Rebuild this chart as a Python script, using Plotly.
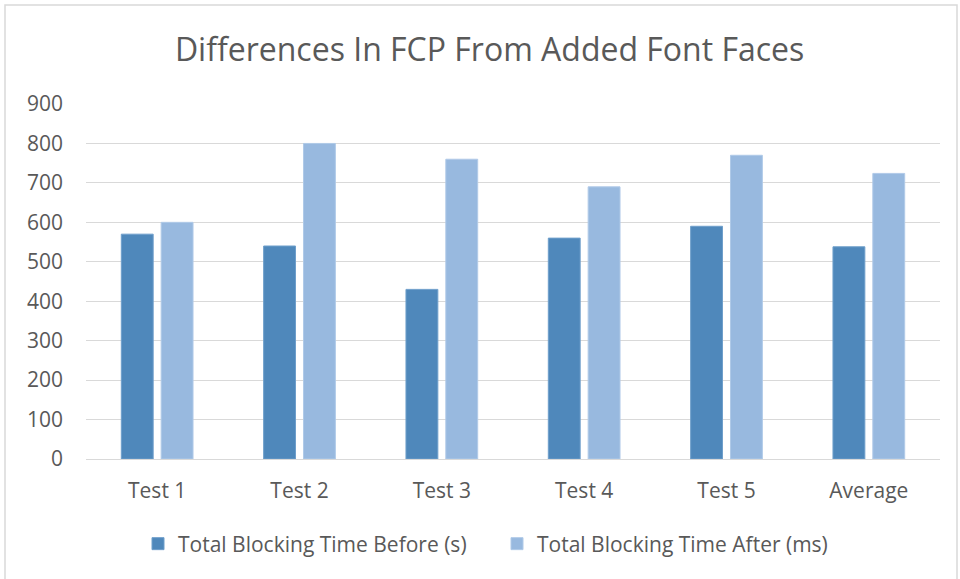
import plotly.graph_objects as go

categories = ["Test 1", "Test 2", "Test 3", "Test 4", "Test 5", "Average"]
before_vals = [570, 540, 430, 560, 590, 538]
after_vals = [600, 800, 760, 690, 770, 724]
series_names = ["Total Blocking Time Before (s)", "Total Blocking Time After (ms)"]
y_ticks = [0, 100, 200, 300, 400, 500, 600, 700, 800, 900]

FONT = "Open Sans"
TXT = "#595959"

fig = go.Figure()
fig.add_trace(go.Bar(x=categories, y=before_vals, name=series_names[0],
                     marker=dict(color="#4F88BB", line=dict(color="#6F9FCB", width=1))))
fig.add_trace(go.Bar(x=categories, y=after_vals, name=series_names[1],
                     marker=dict(color="#98B9DF", line=dict(color="#B0CAE8", width=1))))

W, H = 960, 579
L, R, T, B = 86, 20, 104, 120
pw, ph = W - L - R, H - T - B

def px_x(x):
    return (x - L) / pw

def px_y(y):
    return (H - B - y) / ph

fig.update_layout(
    width=W, height=H,
    margin=dict(l=L, r=R, t=T, b=B),
    paper_bgcolor="white", plot_bgcolor="white",
    barmode="group", bargap=0.44, bargroupgap=0.2,
    title=dict(text="Differences In FCP From Added Font Faces",
               font=dict(family=FONT, size=32, color=TXT),
               x=0.51, xanchor="center", y=1 - 50 / H, yanchor="middle"),
    font=dict(family=FONT, color=TXT, size=21),
    showlegend=True,
    legend=dict(orientation="h", x=px_x(138), xanchor="left",
                y=px_y(544), yanchor="middle",
                font=dict(family=FONT, size=21, color=TXT),
                entrywidth=314, entrywidthmode="pixels",
                itemwidth=30, tracegroupgap=0),
    xaxis=dict(showgrid=False, showline=True, linecolor="#D9D9D9", linewidth=1,
               ticks="", ticklabelstandoff=13,
               tickfont=dict(family=FONT, size=21, color=TXT)),
    yaxis=dict(range=[0, 900], tickvals=y_ticks, showgrid=True,
               gridcolor="#D9D9D9", gridwidth=1, zeroline=False,
               showline=False, ticks="", ticklabelstandoff=22,
               tickfont=dict(family=FONT, size=21, color=TXT)),
    shapes=[dict(type="rect", xref="paper", yref="paper",
                 x0=px_x(5), x1=px_x(957), y0=px_y(590), y1=px_y(5),
                 line=dict(color="#D9D9D9", width=1.5), fillcolor="rgba(0,0,0,0)",
                 layer="below")],
)

fig.write_html("out.html", config={"displayModeBar": False},
               post_script="document.body.style.margin='0';document.body.style.overflow='hidden';")
